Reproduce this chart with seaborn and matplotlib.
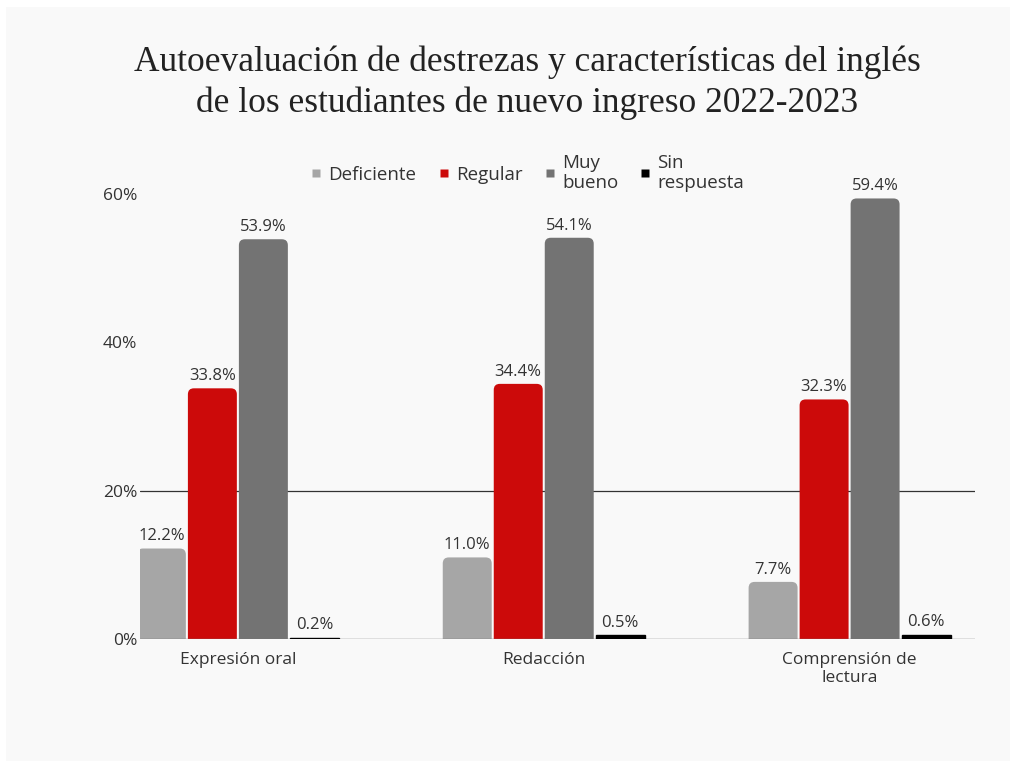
import matplotlib
matplotlib.use("Agg")
import matplotlib.pyplot as plt
from matplotlib.patches import FancyBboxPatch, Rectangle
from matplotlib.lines import Line2D
import seaborn as sns
import pandas as pd

categories = ["Expresión oral", "Redacción", "Comprensión de\nlectura"]
series = ["Deficiente", "Regular", "Muy bueno", "Sin respuesta"]
legend_labels = ["Deficiente", "Regular", "Muy\nbueno", "Sin\nrespuesta"]
deficiente = [12.2, 11.0, 7.7]
regular = [33.8, 34.4, 32.3]
muy_bueno = [53.9, 54.1, 59.4]
sin_respuesta = [0.2, 0.5, 0.6]
yticks = [0, 20, 40, 60]
title = "Autoevaluación de destrezas y características del inglés\nde los estudiantes de nuevo ingreso 2022-2023"

colors = ["#a6a6a6", "#cc0a0a", "#737373", "#000000"]

rows = []
for s, vals in zip(series, [deficiente, regular, muy_bueno, sin_respuesta]):
    for c, v in zip(categories, vals):
        rows.append({"cat": c, "serie": s, "val": v})
df = pd.DataFrame(rows)

sns.set_theme(style="white")
plt.rcParams["font.family"] = ["Open Sans", "DejaVu Sans"]

W, H = 1014, 767
fig = plt.figure(figsize=(W / 100, H / 100), dpi=100, facecolor="white")
fig.patches.append(Rectangle((6 / W, 6 / H), (1010 - 6) / W, (760 - 6) / H,
                             transform=fig.transFigure, facecolor="#f9f9f9",
                             edgecolor="none", zorder=-10))

ax_l, ax_r, ax_t, ax_b = 140, 975, 194, 639
ax = fig.add_axes([ax_l / W, 1 - ax_b / H, (ax_r - ax_l) / W, (ax_b - ax_t) / H])
ax.set_facecolor("none")

sns.barplot(data=df, x="cat", y="val", hue="serie", hue_order=series,
            order=categories, palette=colors, width=0.667, gap=0.04,
            ax=ax, legend=False, saturation=1)

xlim = (-0.32, 2.41)
ylim = (0, 60)
ax.set_xlim(*xlim)
ax.set_ylim(*ylim)

# value labels
for cont in ax.containers:
    ax.bar_label(cont, labels=[f"{v:.1f}%" for v in cont.datavalues],
                 padding=3, fontsize=12, color="#333333")

# rounded top corners
px_x = (ax_r - ax_l) / (xlim[1] - xlim[0])
px_y = (ax_b - ax_t) / (ylim[1] - ylim[0])
r_px = 6
rx = r_px / px_x
aspect = px_x / px_y
for cont in ax.containers:
    for p in cont.patches:
        x, y, w, h = p.get_x(), p.get_y(), p.get_width(), p.get_height()
        fc = p.get_facecolor()
        if h * px_y < 2 * r_px:
            p.set_edgecolor(fc)
            p.set_linewidth(1.0)
            p.set_zorder(4)
            continue
        p.set_visible(False)
        ext = r_px / px_y
        fp = FancyBboxPatch((x, y - ext), w, h + ext,
                            boxstyle=f"round,pad=0,rounding_size={rx}",
                            mutation_aspect=aspect, facecolor=fc,
                            edgecolor="none", zorder=2, clip_on=True)
        ax.add_patch(fp)

ax.axhline(20, color="#333333", lw=0.9, zorder=1)
ax.axhline(0, color="#777777", lw=1.0, zorder=3)

ax.set_yticks(yticks)
ax.set_yticklabels([f"{t}%" for t in yticks], fontsize=12.5, color="#333333")
ax.tick_params(axis="y", length=0, pad=2)
ax.tick_params(axis="x", length=0, pad=9, labelsize=12.5, labelcolor="#333333")
ax.set_xlabel("")
ax.set_ylabel("")
sns.despine(ax=ax, left=True, bottom=True)

handles = [Line2D([0], [0], marker="s", linestyle="none", markersize=6,
                  markerfacecolor=c, markeredgecolor="none") for c in colors]
fig.legend(handles, legend_labels, loc="center", bbox_to_anchor=(527 / W, 1 - 173 / H),
           ncol=4, frameon=False, fontsize=13.5, handlelength=0.7,
           handletextpad=0.3, columnspacing=1.1, labelcolor="#333333")

fig.text(527 / W, 1 - 83 / H, title, ha="center", va="center",
         fontsize=25.5, family="Liberation Serif", color="#222222", linespacing=1.3)

fig.savefig("out.png", dpi=100, facecolor="white")
